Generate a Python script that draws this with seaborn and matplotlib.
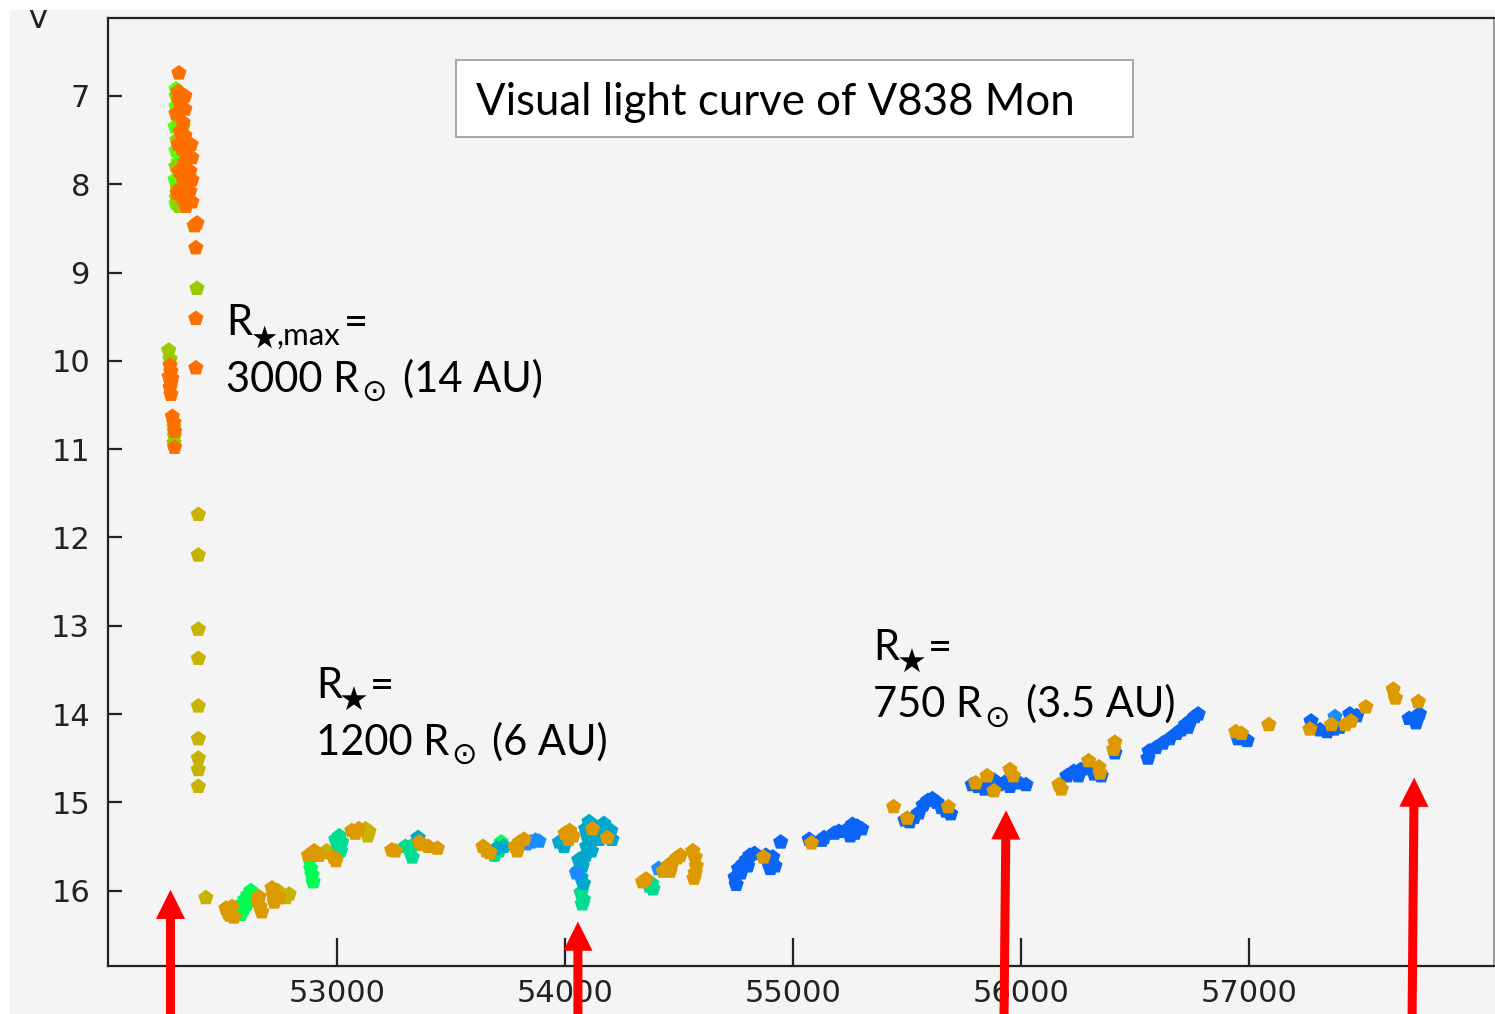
import matplotlib
matplotlib.use('Agg')
import matplotlib.pyplot as plt
import seaborn as sns
import pandas as pd
from matplotlib.patches import Rectangle, FancyArrowPatch

W, H = 1495, 1014

# ---------------- data (JD-2400000, V magnitude) ----------------
lime_jd  = [52294, 52294, 52290, 52294, 52290, 52294, 52320, 52333, 52303]
lime_mag = [6.92, 7.12, 7.35, 7.62, 7.95, 8.22, 7.45, 7.60, 7.75]

ygreen_jd  = [52296, 52302, 52298, 52294, 52300, 52296, 52307, 52325, 52338, 52351, 52338,
              52373, 52386, 52262, 52268, 52285, 52287, 52285]
ygreen_mag = [7.00, 7.25, 7.50, 7.80, 8.05, 8.15, 8.25, 7.35, 7.70, 7.90, 8.05,
              8.47, 9.18, 9.88, 9.98, 10.75, 10.85, 10.93]

orange_jd  = [52307, 52303, 52307, 52294, 52320, 52333, 52333, 52325, 52312, 52333, 52303,
              52320, 52346, 52360, 52346, 52364, 52333, 52307, 52320, 52355, 52364, 52338,
              52312, 52355, 52299, 52320, 52364, 52338, 52377, 52386, 52381, 52381, 52381,
              52268, 52272, 52264, 52272, 52268, 52276, 52272, 52278, 52285, 52288, 52288]
orange_mag = [6.74, 6.95, 7.05, 7.20, 7.05, 7.00, 7.15, 7.30, 7.40, 7.45, 7.55,
              7.60, 7.55, 7.55, 7.70, 7.70, 7.75, 7.85, 7.90, 7.85, 7.95, 8.00,
              8.05, 8.08, 8.10, 8.15, 8.20, 8.25, 8.47, 8.44, 8.72, 9.52, 10.08,
              10.05, 10.12, 10.18, 10.25, 10.30, 10.20, 10.38, 10.63, 10.70, 10.80, 10.98]

olive_jd  = [52392, 52392, 52392, 52392, 52392, 52392, 52392, 52392, 52392, 52425,
             52740, 52758, 52775, 52790, 52910, 52945, 52955, 53125, 53135, 53140]
olive_mag = [11.74, 12.20, 13.04, 13.37, 13.91, 14.28, 14.50, 14.63, 14.82, 16.08,
             16.00, 16.05, 16.08, 16.04, 15.58, 15.57, 15.55, 15.30, 15.38, 15.33]

green_jd  = [52570, 52583, 52596, 52609, 52622, 52592, 52605, 52618, 52578, 52562,
             52880, 52885, 52890, 52895, 53720]
green_mag = [16.22, 16.15, 16.10, 16.05, 16.00, 16.20, 16.15, 16.10, 16.27, 16.25,
             15.65, 15.75, 15.82, 15.90, 15.45]

teal_jd  = [52995, 53010, 53020, 53005, 53015, 53000, 53300, 53320, 53340, 53330,
            53690, 53710, 54070, 54080, 54075, 54370, 54385, 54380]
teal_mag = [15.42, 15.38, 15.45, 15.50, 15.55, 15.60, 15.50, 15.55, 15.47, 15.62,
            15.60, 15.55, 16.02, 16.10, 16.15, 15.95, 15.98, 15.92]

cyan_jd  = [53355, 53730, 53700, 53975, 53995, 54090, 54110, 54135, 54160, 54185, 54200,
            54100, 54125, 54150, 54095, 54115, 54060, 54075, 54055, 54070, 54080,
            54105, 54170, 54205, 54140, 54090]
cyan_mag = [15.40, 15.50, 15.52, 15.45, 15.50, 15.30, 15.25, 15.28, 15.30, 15.35, 15.32,
            15.40, 15.38, 15.42, 15.50, 15.55, 15.65, 15.72, 15.78, 15.85, 15.92,
            15.22, 15.24, 15.42, 15.35, 15.60]

lblue_jd  = [53830, 53850, 53870, 53885, 54050, 54410, 57375]
lblue_mag = [15.47, 15.45, 15.43, 15.44, 15.80, 15.75, 14.03]

blue_jd  = [54745, 54750, 54760, 54780, 54795, 54810, 54830, 54770, 54800,
            54880, 54890, 54900, 54920, 54910, 54945,
            55070, 55125, 55135, 55180, 55200, 55240, 55260, 55280, 55300, 55270, 55250,
            55490, 55510, 55530, 55550, 55570, 55590, 55610, 55630, 55650, 55670, 55690,
            55785, 55810, 55840, 55870, 55900, 55930, 55960, 55990, 56020, 55880, 55950,
            56200, 56230, 56260, 56290, 56320, 56350, 56250, 56410,
            56555, 56560, 56590, 56620, 56650, 56680, 56700, 56720, 56740, 56760, 56775, 56730,
            56950, 56990, 57270, 57310, 57340, 57370, 57395, 57440, 57470,
            57700, 57730, 57745]
blue_mag = [15.85, 15.93, 15.75, 15.70, 15.65, 15.60, 15.58, 15.80, 15.72,
            15.60, 15.68, 15.75, 15.72, 15.62, 15.45,
            15.42, 15.43, 15.40, 15.35, 15.33, 15.30, 15.25, 15.27, 15.30, 15.35, 15.38,
            15.20, 15.22, 15.17, 15.12, 15.03, 14.98, 14.96, 15.00, 15.06, 15.10, 15.13,
            14.80, 14.82, 14.85, 14.83, 14.80, 14.77, 14.75, 14.78, 14.80, 14.75, 14.82,
            14.70, 14.65, 14.63, 14.62, 14.68, 14.70, 14.70, 14.44,
            14.50, 14.42, 14.38, 14.33, 14.28, 14.22, 14.18, 14.12, 14.08, 14.03, 14.00, 14.15,
            14.28, 14.30, 14.08, 14.18, 14.20, 14.17, 14.15, 14.00, 14.02,
            14.05, 14.10, 14.00]

gold_jd  = [52513, 52530, 52540, 52548, 52522, 52653, 52662, 52670, 52658,
            52715, 52720, 52725, 52745, 52875, 52900, 52920, 52985, 52995,
            53065, 53080, 53095, 53240, 53255, 53375, 53400, 53440, 53360,
            53640, 53655, 53670, 53780, 53800, 53820, 53790,
            54000, 54020, 54035, 54015, 54120, 54185,
            54340, 54355, 54430, 54450, 54470, 54490, 54505, 54460,
            54560, 54570, 54575, 54570, 54565, 54870, 55080, 55440, 55500, 55680,
            55800, 55850, 55880, 55950, 55965, 56165, 56175, 56295, 56340, 56345, 56410, 56405,
            56940, 56965, 57085, 57265, 57360, 57420, 57445, 57510, 57630, 57640, 57740]
gold_mag = [16.20, 16.28, 16.18, 16.30, 16.25, 16.12, 16.18, 16.24, 16.07,
            15.97, 16.05, 16.13, 16.08, 15.60, 15.55, 15.60, 15.62, 15.66,
            15.32, 15.35, 15.30, 15.54, 15.55, 15.48, 15.50, 15.52, 15.45,
            15.50, 15.55, 15.57, 15.50, 15.45, 15.42, 15.55,
            15.35, 15.32, 15.38, 15.42, 15.30, 15.40,
            15.90, 15.87, 15.78, 15.72, 15.68, 15.63, 15.60, 15.78,
            15.55, 15.62, 15.72, 15.80, 15.86, 15.62, 15.46, 15.05, 15.18, 15.05,
            14.78, 14.70, 14.87, 14.63, 14.70, 14.80, 14.85, 14.53, 14.60, 14.67, 14.32, 14.40,
            14.20, 14.22, 14.12, 14.17, 14.12, 14.12, 14.08, 13.92, 13.72, 13.82, 13.86]

# epochs marked by red arrows (tip JD, tip mag, foot JD)
arrow_jd_tip  = [52270, 54056, 55933, 57722]
arrow_mag_tip = [15.99, 16.35, 15.09, 14.72]
arrow_jd_foot = [52270, 54056, 55924, 57713]

x_ticks = [53000, 54000, 55000, 56000, 57000]
y_ticks = [7, 8, 9, 10, 11, 12, 13, 14, 15, 16]

series = [
    ('lime', lime_jd, lime_mag, '#55ff10'),
    ('ygreen', ygreen_jd, ygreen_mag, '#99cc00'),
    ('orange', orange_jd, orange_mag, '#ff6e00'),
    ('olive', olive_jd, olive_mag, '#c8b400'),
    ('green', green_jd, green_mag, '#00ff55'),
    ('teal', teal_jd, teal_mag, '#00dd90'),
    ('cyan', cyan_jd, cyan_mag, '#00a8cc'),
    ('lblue', lblue_jd, lblue_mag, '#1a8cff'),
    ('blue', blue_jd, blue_mag, '#0a64f5'),
    ('gold', gold_jd, gold_mag, '#dc9a00'),
]
frames = [pd.DataFrame({'JD': j, 'mag': m, 'src': n}) for n, j, m, c in series]
df = pd.concat(frames, ignore_index=True)
pal = {n: c for n, j, m, c in series}

# ---------------- figure ----------------
sns.set_style('white')
plt.rcParams['font.family'] = ['DejaVu Sans']

fig = plt.figure(figsize=(W / 100, H / 100), dpi=100)
fig.patch.set_facecolor('white')
fig.add_artist(Rectangle((10 / W, 0), 1, 1, transform=fig.transFigure,
                         facecolor='#f4f4f4', edgecolor='none', zorder=-10))

ax = fig.add_axes([108 / W, 1 - 966 / H, (1494 - 108) / W, (966 - 18) / H])
ax.set_facecolor('#f4f4f4')

sns.scatterplot(data=df, x='JD', y='mag', hue='src', palette=pal,
                hue_order=[s[0] for s in series], marker='p', s=135,
                linewidth=0, legend=False, ax=ax, zorder=3)

ax.set_xlim(51996, 58072)
ax.set_ylim(16.853, 6.117)
ax.set_xticks(x_ticks)
ax.set_yticks(y_ticks)
ax.set_xlabel('')
ax.set_ylabel('')
ax.tick_params(axis='y', direction='in', length=10, width=1.6, labelsize=22,
               pad=13, color='#222222', labelcolor='#222222', left=True)
ax.tick_params(axis='x', direction='in', length=20, width=1.6, labelsize=22,
               pad=9, color='#222222', labelcolor='#222222', bottom=True)
for side in ['left', 'bottom', 'top']:
    ax.spines[side].set_color('#222222')
    ax.spines[side].set_linewidth(1.6)
ax.spines['right'].set_color('#888888')
ax.spines['right'].set_linewidth(1.2)

# red arrows
y_foot = 17.40
for jt, mt, jf in zip(arrow_jd_tip, arrow_mag_tip, arrow_jd_foot):
    arr = FancyArrowPatch((jf, y_foot), (jt, mt), transform=ax.transData,
                          arrowstyle='simple,head_length=21,head_width=21,tail_width=6.5',
                          mutation_scale=1, color='#ff0000', linewidth=0,
                          shrinkA=0, shrinkB=0, clip_on=False, zorder=6)
    ax.add_patch(arr)

# axis letter
fig.text(38 / W, 1 - 20 / H, 'V', ha='center', va='center', fontsize=22,
         color='#222222', zorder=5)

# white margins of the screenshot
fig.add_artist(Rectangle((0, 1 - 10 / H), 1, 10 / H, transform=fig.transFigure,
                         facecolor='white', edgecolor='none', zorder=20))
fig.add_artist(Rectangle((0, 0), 10 / W, 1, transform=fig.transFigure,
                         facecolor='white', edgecolor='none', zorder=20))

# title box
fig.add_artist(Rectangle((456 / W, 1 - 137 / H), (1133 - 456) / W, 77 / H,
                         transform=fig.transFigure, facecolor='white',
                         edgecolor='#a0a0a0', linewidth=1.3, zorder=7))
LAT = ['Lato', 'DejaVu Sans']


def t(x, y, s, size, fam=LAT, va='baseline', ha='left'):
    fig.text(x / W, 1 - y / H, s, fontsize=size, family=fam, va=va, ha=ha,
             color='black', zorder=8)


t(476, 115, 'Visual light curve of V838 Mon', 31.5)

# annotation A
t(226, 335, 'R', 30)
t(250, 348, '\u2605', 22, fam=['DejaVu Sans'])
t(276, 345, ',max', 22.5)
t(344, 335, '=', 30)
t(226, 392, '3000 R', 30)
t(374, 392, '\u2299', 22, fam=['DejaVu Sans'], va='center', ha='center')
t(403, 392, '(14 AU)', 30)

# annotation B
t(316, 698, 'R', 30)
t(339, 711, '\u2605', 24, fam=['DejaVu Sans'])
t(370, 698, '=', 30)
t(316, 755, '1200 R', 30)
t(464, 755, '\u2299', 22, fam=['DejaVu Sans'], va='center', ha='center')
t(492, 755, '(6 AU)', 30)

# annotation C
t(873, 660, 'R', 30)
t(897, 673, '\u2605', 24, fam=['DejaVu Sans'])
t(928, 660, '=', 30)
t(873, 717, '750 R', 30)
t(997, 718, '\u2299', 22, fam=['DejaVu Sans'], va='center', ha='center')
t(1026, 717, '(3.5 AU)', 30)

fig.savefig('out.png', dpi=100, facecolor=fig.get_facecolor())
